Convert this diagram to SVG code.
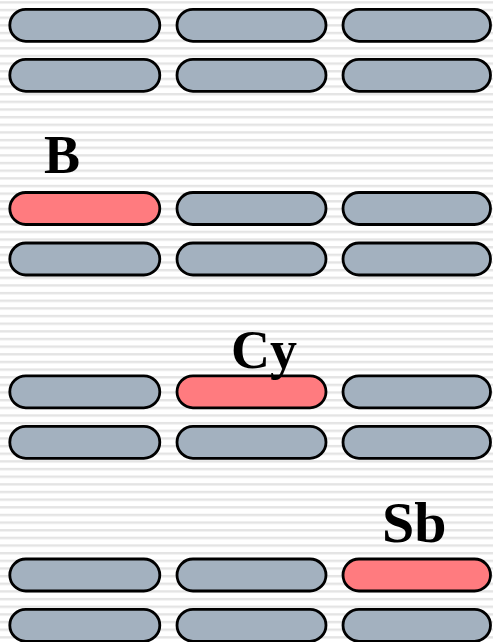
<svg xmlns="http://www.w3.org/2000/svg" width="493" height="642" viewBox="0 0 493 642">
  <defs>
    <pattern id="stripes" patternUnits="userSpaceOnUse" x="0" y="1.2" width="493" height="7.65">
      <rect x="0" y="0" width="493" height="7.65" fill="#ffffff"/>
      <rect x="0" y="0" width="493" height="2.4" fill="#e4e4e4"/>
    </pattern>
    <style>
      .pill { stroke: #000; stroke-width: 2.8; }
      .off { fill: #a3b1bf; }
      .on { fill: #ff7b7f; }
      .lbl { font-family: "Liberation Serif", "Times New Roman", serif; font-weight: bold; font-size: 54px; fill: #000; }
    </style>
  </defs>
  <rect x="0" y="0" width="493" height="642" fill="url(#stripes)"/>

  <!-- group 1 -->
  <g id="g1r1">
    <rect class="pill off" x="9.8" y="9.3" width="150" height="32" rx="16" ry="16"/>
    <rect class="pill off" x="177" y="9.3" width="149" height="32" rx="16" ry="16"/>
    <rect class="pill off" x="343" y="9.3" width="147.5" height="32" rx="16" ry="16"/>
  </g>
  <g id="g1r2">
    <rect class="pill off" x="9.8" y="59.3" width="150" height="32" rx="16" ry="16"/>
    <rect class="pill off" x="177" y="59.3" width="149" height="32" rx="16" ry="16"/>
    <rect class="pill off" x="343" y="59.3" width="147.5" height="32" rx="16" ry="16"/>
  </g>

  <!-- group 2: B -->
  <g id="labelB"><text class="lbl" x="44" y="172.5">B</text></g>
  <g id="g2r1">
    <rect class="pill on" x="9.8" y="192.5" width="150" height="32" rx="16" ry="16"/>
    <rect class="pill off" x="177" y="192.5" width="149" height="32" rx="16" ry="16"/>
    <rect class="pill off" x="343" y="192.5" width="147.5" height="32" rx="16" ry="16"/>
  </g>
  <g id="g2r2">
    <rect class="pill off" x="9.8" y="243" width="150" height="32" rx="16" ry="16"/>
    <rect class="pill off" x="177" y="243" width="149" height="32" rx="16" ry="16"/>
    <rect class="pill off" x="343" y="243" width="147.5" height="32" rx="16" ry="16"/>
  </g>

  <!-- group 3: Cy -->
  <g id="g3r1">
    <rect class="pill off" x="9.8" y="375.8" width="150" height="32" rx="16" ry="16"/>
    <rect class="pill on" x="177" y="375.8" width="149" height="32" rx="16" ry="16"/>
    <rect class="pill off" x="343" y="375.8" width="147.5" height="32" rx="16" ry="16"/>
  </g>
  <g id="labelCy"><text class="lbl" x="231" y="367.5">Cy</text></g>
  <g id="g3r2">
    <rect class="pill off" x="9.8" y="426.3" width="150" height="32" rx="16" ry="16"/>
    <rect class="pill off" x="177" y="426.3" width="149" height="32" rx="16" ry="16"/>
    <rect class="pill off" x="343" y="426.3" width="147.5" height="32" rx="16" ry="16"/>
  </g>

  <!-- group 4: Sb -->
  <g id="labelSb"><text class="lbl" x="382" y="541.5" style="font-size:58px">Sb</text></g>
  <g id="g4r1">
    <rect class="pill off" x="9.8" y="559" width="150" height="32" rx="16" ry="16"/>
    <rect class="pill off" x="177" y="559" width="149" height="32" rx="16" ry="16"/>
    <rect class="pill on" x="343" y="559" width="147.5" height="32" rx="16" ry="16"/>
  </g>
  <g id="g4r2">
    <rect class="pill off" x="9.8" y="609.3" width="150" height="32" rx="16" ry="16"/>
    <rect class="pill off" x="177" y="609.3" width="149" height="32" rx="16" ry="16"/>
    <rect class="pill off" x="343" y="609.3" width="147.5" height="32" rx="16" ry="16"/>
  </g>
</svg>
